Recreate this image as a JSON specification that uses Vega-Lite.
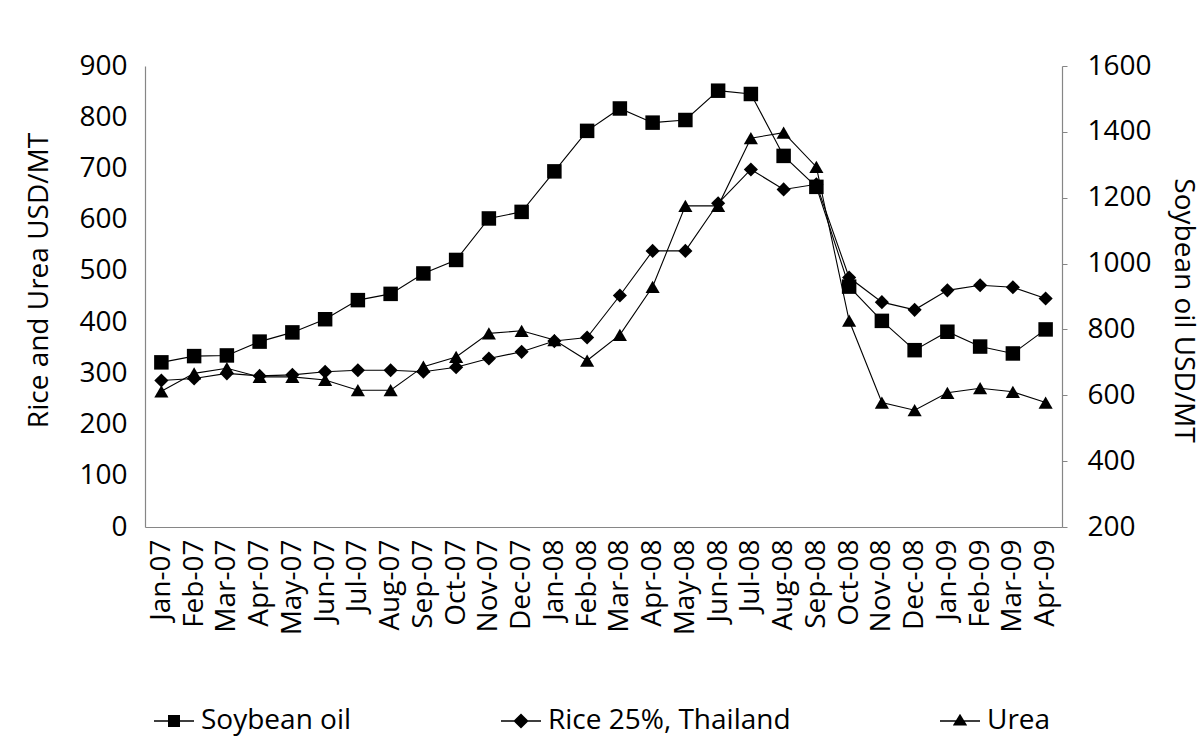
{
  "$schema": "https://vega.github.io/schema/vega-lite/v6.json",
  "width": 917,
  "height": 461,
  "autosize": {"type": "none"},
  "padding": {"left": 145, "top": 66, "right": 141, "bottom": 227},
  "background": "white",
  "config": {
    "font": "Open Sans",
    "view": {"stroke": null},
    "axis": {
      "labelColor": "black",
      "titleColor": "black",
      "labelFontSize": 28,
      "titleFontSize": 28,
      "titleFontWeight": "normal",
      "labelFont": "Open Sans",
      "titleFont": "Open Sans",
      "domainColor": "#868686",
      "domainWidth": 1.2,
      "tickColor": "#868686",
      "grid": false
    }
  },
  "data": {
    "values": [
      {"month": "Jan-07", "series": "Soybean oil", "value": 700},
      {"month": "Feb-07", "series": "Soybean oil", "value": 719},
      {"month": "Mar-07", "series": "Soybean oil", "value": 721},
      {"month": "Apr-07", "series": "Soybean oil", "value": 763},
      {"month": "May-07", "series": "Soybean oil", "value": 791},
      {"month": "Jun-07", "series": "Soybean oil", "value": 831},
      {"month": "Jul-07", "series": "Soybean oil", "value": 889},
      {"month": "Aug-07", "series": "Soybean oil", "value": 908},
      {"month": "Sep-07", "series": "Soybean oil", "value": 970},
      {"month": "Oct-07", "series": "Soybean oil", "value": 1011},
      {"month": "Nov-07", "series": "Soybean oil", "value": 1137},
      {"month": "Dec-07", "series": "Soybean oil", "value": 1157},
      {"month": "Jan-08", "series": "Soybean oil", "value": 1280},
      {"month": "Feb-08", "series": "Soybean oil", "value": 1403},
      {"month": "Mar-08", "series": "Soybean oil", "value": 1471},
      {"month": "Apr-08", "series": "Soybean oil", "value": 1428},
      {"month": "May-08", "series": "Soybean oil", "value": 1436},
      {"month": "Jun-08", "series": "Soybean oil", "value": 1525},
      {"month": "Jul-08", "series": "Soybean oil", "value": 1515},
      {"month": "Aug-08", "series": "Soybean oil", "value": 1327},
      {"month": "Sep-08", "series": "Soybean oil", "value": 1233},
      {"month": "Oct-08", "series": "Soybean oil", "value": 930},
      {"month": "Nov-08", "series": "Soybean oil", "value": 826},
      {"month": "Dec-08", "series": "Soybean oil", "value": 737},
      {"month": "Jan-09", "series": "Soybean oil", "value": 793},
      {"month": "Feb-09", "series": "Soybean oil", "value": 748},
      {"month": "Mar-09", "series": "Soybean oil", "value": 727},
      {"month": "Apr-09", "series": "Soybean oil", "value": 800},
      {"month": "Jan-07", "series": "Rice 25%, Thailand", "value": 286},
      {"month": "Feb-07", "series": "Rice 25%, Thailand", "value": 290},
      {"month": "Mar-07", "series": "Rice 25%, Thailand", "value": 300},
      {"month": "Apr-07", "series": "Rice 25%, Thailand", "value": 295},
      {"month": "May-07", "series": "Rice 25%, Thailand", "value": 297},
      {"month": "Jun-07", "series": "Rice 25%, Thailand", "value": 303},
      {"month": "Jul-07", "series": "Rice 25%, Thailand", "value": 306},
      {"month": "Aug-07", "series": "Rice 25%, Thailand", "value": 306},
      {"month": "Sep-07", "series": "Rice 25%, Thailand", "value": 303},
      {"month": "Oct-07", "series": "Rice 25%, Thailand", "value": 312},
      {"month": "Nov-07", "series": "Rice 25%, Thailand", "value": 329},
      {"month": "Dec-07", "series": "Rice 25%, Thailand", "value": 342},
      {"month": "Jan-08", "series": "Rice 25%, Thailand", "value": 363},
      {"month": "Feb-08", "series": "Rice 25%, Thailand", "value": 370},
      {"month": "Mar-08", "series": "Rice 25%, Thailand", "value": 452},
      {"month": "Apr-08", "series": "Rice 25%, Thailand", "value": 539},
      {"month": "May-08", "series": "Rice 25%, Thailand", "value": 539},
      {"month": "Jun-08", "series": "Rice 25%, Thailand", "value": 632},
      {"month": "Jul-08", "series": "Rice 25%, Thailand", "value": 698},
      {"month": "Aug-08", "series": "Rice 25%, Thailand", "value": 659},
      {"month": "Sep-08", "series": "Rice 25%, Thailand", "value": 669},
      {"month": "Oct-08", "series": "Rice 25%, Thailand", "value": 487},
      {"month": "Nov-08", "series": "Rice 25%, Thailand", "value": 439},
      {"month": "Dec-08", "series": "Rice 25%, Thailand", "value": 424},
      {"month": "Jan-09", "series": "Rice 25%, Thailand", "value": 462},
      {"month": "Feb-09", "series": "Rice 25%, Thailand", "value": 472},
      {"month": "Mar-09", "series": "Rice 25%, Thailand", "value": 468},
      {"month": "Apr-09", "series": "Rice 25%, Thailand", "value": 446},
      {"month": "Jan-07", "series": "Urea", "value": 265},
      {"month": "Feb-07", "series": "Urea", "value": 300},
      {"month": "Mar-07", "series": "Urea", "value": 310},
      {"month": "Apr-07", "series": "Urea", "value": 293},
      {"month": "May-07", "series": "Urea", "value": 293},
      {"month": "Jun-07", "series": "Urea", "value": 287},
      {"month": "Jul-07", "series": "Urea", "value": 267},
      {"month": "Aug-07", "series": "Urea", "value": 267},
      {"month": "Sep-07", "series": "Urea", "value": 313},
      {"month": "Oct-07", "series": "Urea", "value": 332},
      {"month": "Nov-07", "series": "Urea", "value": 378},
      {"month": "Dec-07", "series": "Urea", "value": 383},
      {"month": "Jan-08", "series": "Urea", "value": 365},
      {"month": "Feb-08", "series": "Urea", "value": 325},
      {"month": "Mar-08", "series": "Urea", "value": 375},
      {"month": "Apr-08", "series": "Urea", "value": 469},
      {"month": "May-08", "series": "Urea", "value": 627},
      {"month": "Jun-08", "series": "Urea", "value": 627},
      {"month": "Jul-08", "series": "Urea", "value": 759},
      {"month": "Aug-08", "series": "Urea", "value": 770},
      {"month": "Sep-08", "series": "Urea", "value": 703},
      {"month": "Oct-08", "series": "Urea", "value": 403},
      {"month": "Nov-08", "series": "Urea", "value": 243},
      {"month": "Dec-08", "series": "Urea", "value": 228},
      {"month": "Jan-09", "series": "Urea", "value": 262},
      {"month": "Feb-09", "series": "Urea", "value": 271},
      {"month": "Mar-09", "series": "Urea", "value": 264},
      {"month": "Apr-09", "series": "Urea", "value": 243}
    ]
  },
  "encoding": {
    "x": {
      "field": "month",
      "type": "ordinal",
      "sort": null,
      "scale": {"type": "point", "padding": 0.5},
      "axis": {
        "title": null,
        "labelAngle": -90,
        "ticks": false,
        "labelPadding": 12
      }
    }
  },
  "layer": [
    {
      "transform": [{"filter": {"field": "series", "oneOf": ["Rice 25%, Thailand", "Urea"]}}],
      "encoding": {
        "y": {
          "field": "value",
          "type": "quantitative",
          "scale": {"domain": [0, 900], "nice": false, "zero": false},
          "axis": {
            "orient": "left",
            "values": [0, 100, 200, 300, 400, 500, 600, 700, 800, 900],
            "title": "Rice and Urea USD/MT",
            "ticks": false,
            "labelPadding": 18,
            "titleAngle": 270,
            "titleX": -106,
            "titleY": 214,
            "titleAlign": "center",
            "titleBaseline": "middle"
          }
        }
      },
      "layer": [
        {
          "mark": {"type": "line", "color": "black", "strokeWidth": 1.1},
          "encoding": {"detail": {"field": "series"}, "order": {"value": null}}
        },
        {
          "mark": {"type": "point", "filled": true, "color": "black", "size": 200, "opacity": 1},
          "encoding": {
            "shape": {
              "field": "series",
              "type": "nominal",
              "scale": {"domain": ["Rice 25%, Thailand", "Urea"], "range": ["diamond", "triangle-up"]},
              "legend": null
            }
          }
        }
      ]
    },
    {
      "transform": [{"filter": {"field": "series", "equal": "Soybean oil"}}],
      "encoding": {
        "y": {
          "field": "value",
          "type": "quantitative",
          "scale": {"domain": [200, 1600], "nice": false, "zero": false},
          "axis": {
            "orient": "right",
            "values": [200, 400, 600, 800, 1000, 1200, 1400, 1600],
            "format": "d",
            "title": "Soybean oil USD/MT",
            "ticks": true,
            "tickSize": 5,
            "labelPadding": 20,
            "titleAngle": 90,
            "titleX": 120,
            "titleY": 244,
            "titleAlign": "center",
            "titleBaseline": "middle"
          }
        }
      },
      "layer": [
        {
          "mark": {"type": "line", "color": "black", "strokeWidth": 1.1},
          "encoding": {"order": {"value": null}}
        },
        {
          "mark": {"type": "point", "filled": true, "color": "black", "size": 210, "shape": "square", "opacity": 1},
          "encoding": {}
        }
      ]
    },
    {
      "transform": [{"filter": {"field": "series", "equal": "none"}}],
      "mark": {"type": "point", "filled": true, "color": "black"},
      "encoding": {
        "shape": {
          "field": "series",
          "type": "nominal",
          "scale": {
            "domain": ["Soybean oil", "Rice 25%, Thailand", "Urea"],
            "range": [
              "M-1,-0.035H1V0.035H-1ZM-0.3,-0.3H0.3V0.3H-0.3Z",
              "M-1,-0.035H1V0.035H-1ZM-0.38,0L0,-0.38L0.38,0L0,0.38Z",
              "M-1,-0.035H1V0.035H-1ZM-0.36,0.22L0,-0.36L0.36,0.22Z"
            ]
          },
          "legend": {
            "title": null,
            "orient": "none",
            "direction": "horizontal",
            "legendX": 8,
            "legendY": 634,
            "columnPadding": 146,
            "labelOffset": 6,
            "labelFontSize": 28,
            "labelFont": "Open Sans",
            "labelColor": "black",
            "labelLimit": 400,
            "symbolSize": 1600,
            "padding": 0,
            "symbolFillColor": "black",
            "symbolOpacity": 1,
            "encode": {
              "symbols": {
                "update": {
                  "fill": {"value": "black"},
                  "opacity": {"value": 1}
                }
              }
            }
          }
        }
      }
    }
  ],
  "resolve": {
    "scale": {"y": "independent", "shape": "independent"},
    "legend": {"shape": "independent"}
  }
}
